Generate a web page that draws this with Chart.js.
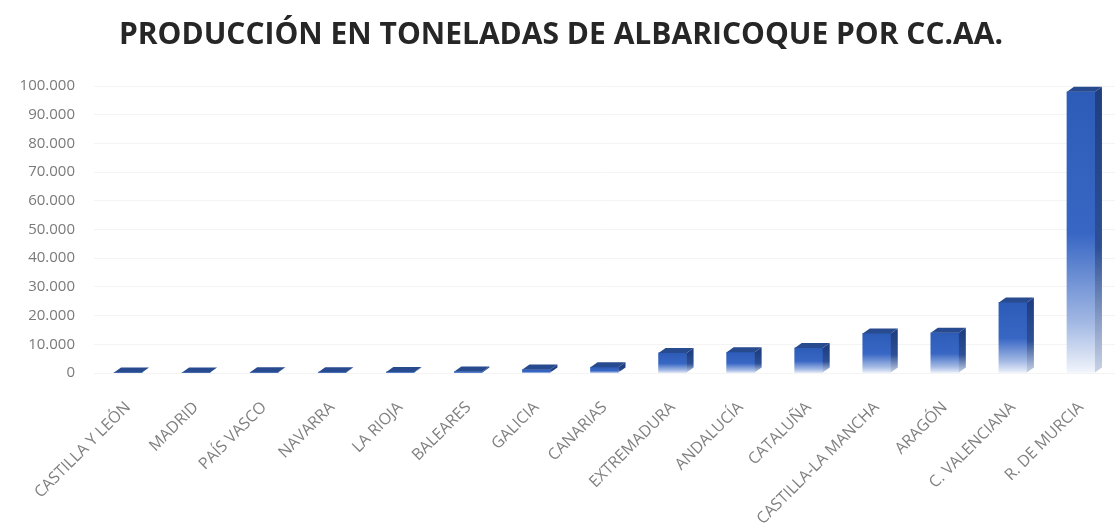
<!DOCTYPE html>
<html>
<head>
<meta charset="utf-8">
<script src="https://cdn.jsdelivr.net/npm/chart.js@4"></script>
<style>
  body { margin: 0; background: #fff; }
  #wrap { width: 1115px; height: 527px; }
</style>
</head>
<body>
<div id="wrap"><canvas id="apricotChart" width="1115" height="527"></canvas></div>
<script>
const regions = [
  "CASTILLA Y LEÓN", "MADRID", "PAÍS VASCO", "NAVARRA", "LA RIOJA",
  "BALEARES", "GALICIA", "CANARIAS", "EXTREMADURA", "ANDALUCÍA",
  "CATALUÑA", "CASTILLA-LA MANCHA", "ARAGÓN", "C. VALENCIANA", "R. DE MURCIA"
];
const tonnes = [150, 200, 250, 300, 350, 500, 1200, 2000, 7000, 7200, 8700, 13800, 14000, 24600, 98000];
const yTicks = [0, 10000, 20000, 30000, 40000, 50000, 60000, 70000, 80000, 90000, 100000];

// depth of the fake 3D block
const DEPTH_X = 7;
const DEPTH_Y = 5;

function frontGradient(context) {
  const chart = context.chart;
  if (!chart.chartArea) return "#3566c6";
  const yScale = chart.scales.y;
  const top = yScale.getPixelForValue(context.raw);
  const base = yScale.getPixelForValue(0);
  const g = chart.ctx.createLinearGradient(0, top, 0, base + 1);
  g.addColorStop(0, "#2d5cb8");
  g.addColorStop(0.5, "#3766c4");
  g.addColorStop(0.82, "#a3b9e4");
  g.addColorStop(1, "#f3f6fc");
  return g;
}

const blockPlugin = {
  id: "block3d",
  afterDatasetsDraw(chart) {
    const ctx = chart.ctx;
    const meta = chart.getDatasetMeta(0);
    meta.data.forEach(function (bar) {
      const p = bar.getProps(["x", "y", "base", "width"], true);
      const left = p.x - p.width / 2;
      const right = p.x + p.width / 2;

      // side face
      const side = ctx.createLinearGradient(0, p.y, 0, p.base);
      side.addColorStop(0, "#1f3f82");
      side.addColorStop(0.55, "#2c4f96");
      side.addColorStop(1, "#c9d3e6");
      ctx.save();
      ctx.fillStyle = side;
      ctx.beginPath();
      ctx.moveTo(right, p.y);
      ctx.lineTo(right + DEPTH_X, p.y - DEPTH_Y);
      ctx.lineTo(right + DEPTH_X, p.base - DEPTH_Y);
      ctx.lineTo(right, p.base);
      ctx.closePath();
      ctx.fill();

      // top face
      ctx.fillStyle = "#284a8e";
      ctx.beginPath();
      ctx.moveTo(left, p.y);
      ctx.lineTo(left + DEPTH_X, p.y - DEPTH_Y);
      ctx.lineTo(right + DEPTH_X, p.y - DEPTH_Y);
      ctx.lineTo(right, p.y);
      ctx.closePath();
      ctx.fill();
      ctx.restore();
    });
  }
};

const chartCanvas = document.getElementById("apricotChart").getContext("2d");

new Chart(chartCanvas, {
  type: "bar",
  data: {
    labels: regions,
    datasets: [
      {
        label: "Toneladas",
        data: tonnes,
        backgroundColor: frontGradient,
        borderWidth: 0,
        barThickness: 28,
      },
    ],
  },
  options: {
    responsive: false,
    animation: false,
    layout: { padding: { left: 7, right: 0, top: 0, bottom: 4 } },
    plugins: {
      legend: { display: false },
      tooltip: { enabled: false },
      title: {
        display: true,
        text: "PRODUCCIÓN EN TONELADAS DE ALBARICOQUE POR CC.AA.",
        color: "#262626",
        font: { family: "Open Sans", size: 30, weight: "bold" },
        padding: { top: 17, bottom: 33 },
      },
    },
    scales: {
      x: {
        grid: { display: false },
        border: { display: false },
        ticks: {
          color: "#808080",
          font: { family: "Open Sans", size: 16 },
          maxRotation: 45,
          minRotation: 45,
          autoSkip: false,
          padding: 17,
        },
        afterFit(scale) {
          scale.height = 150;
        },
      },
      y: {
        min: 0,
        max: 100000,
        afterBuildTicks(scale) {
          scale.ticks = yTicks.map((v) => ({ value: v }));
        },
        grid: { color: "#f4f4f4", drawTicks: false },
        border: { display: false },
        ticks: {
          color: "#7a7a7a",
          font: { family: "Open Sans", size: 15 },
          padding: 19,
          callback: (v) => Number(v).toLocaleString("es-ES", { useGrouping: true }),
        },
        afterFit(scale) {
          scale.width = 87;
        },
      },
    },
  },
  plugins: [blockPlugin],
});
</script>
</body>
</html>
